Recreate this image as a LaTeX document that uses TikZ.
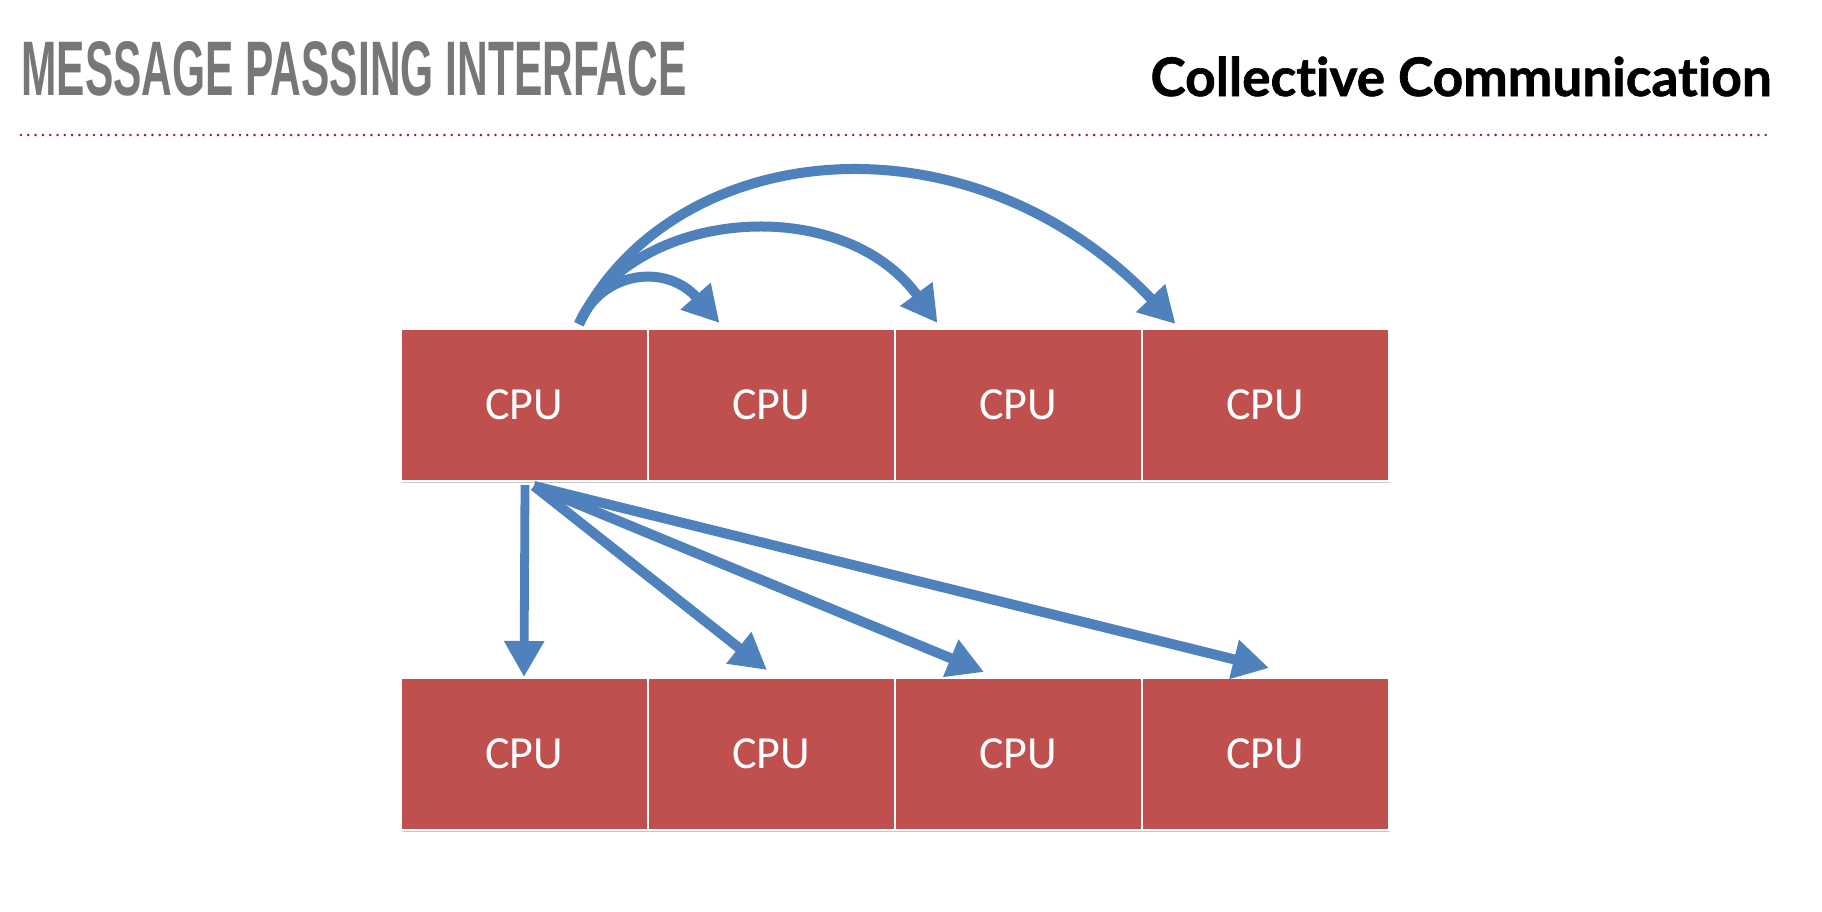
\documentclass[tikz,border=0pt]{standalone}
\usepackage{fontspec}
\setmainfont{Carlito}
\newfontfamily\titlefont{Liberation Sans}
\newfontfamily\subfont{Lato}[Ligatures=NoCommon, BoldFeatures={FakeBold=1.2}]
\usetikzlibrary{arrows.meta,shadows,calc}
\definecolor{cpured}{HTML}{C0504D}
\definecolor{arrowblue}{HTML}{4F81BD}
\definecolor{titlegray}{HTML}{777777}
\definecolor{dotred}{HTML}{8E1F2E}
\begin{document}
\begin{tikzpicture}[x=0.5pt,y=0.5pt,
  cpubox/.style={fill=cpured, draw=white, line width=1pt, minimum width=123.5pt,
    minimum height=76pt, inner sep=0pt, text=white, font=\fontsize{23}{26}\selectfont,
    drop shadow={shadow xshift=0.6pt, shadow yshift=-1.2pt, opacity=0.22, fill=black}},
  bluearrow/.style={draw=arrowblue, line width=5pt, -{Triangle[length=18pt,width=19pt]}},
  dotline/.style={dotred, line width=1.4pt, line cap=round, dash pattern=on 0pt off 3.65pt}]
\fill[white] (0,0) rectangle (1822,-911);
\useasboundingbox (0,0) rectangle (1822,-911);

% titles
\node[anchor=base west, inner sep=0pt, text=titlegray] (title) at (21,-95)
  {\resizebox{332.5pt}{27pt}{\titlefont\bfseries MESSAGE PASSING INTERFACE}};
\node[anchor=base east, inner sep=0pt, text=black] (sub) at (1772,-96)
  {\resizebox{310.5pt}{!}{\subfont\bfseries Collective Communication}};
\coordinate (dl) at (21,-135);
\coordinate (dr) at (1772,-135);
\draw[dotline] (dl) -- (dr);

% CPU boxes
\node[cpubox] (t1) at (524,-405) {CPU};
\node[cpubox] (t2) at (771,-405) {CPU};
\node[cpubox] (t3) at (1018,-405) {CPU};
\node[cpubox] (t4) at (1265,-405) {CPU};
\node[cpubox] (b1) at (524,-754) {CPU};
\node[cpubox] (b2) at (771,-754) {CPU};
\node[cpubox] (b3) at (1018,-754) {CPU};
\node[cpubox] (b4) at (1265,-754) {CPU};

% top curved arrows
\coordinate (src) at ($(t1.north)+(55,4)$);
\coordinate (a1) at ($(t2.north west)+(73,5)$);
\coordinate (a2) at ($(t3.north west)+(44,5)$);
\coordinate (a3) at ($(t4.north west)+(35,4)$);
\draw[bluearrow] (src) .. controls (600,-272) and (665,-262) .. (a1);
\draw[bluearrow] (src) .. controls (630,-210) and (840,-190) .. (a2);
\draw[bluearrow] (src) .. controls (670,-140) and (965,-105) .. (a3);

% bottom straight arrows
\coordinate (src2) at ($(t1.south)+(1,-3)$);
\coordinate (src3) at ($(t1.south)+(10,-4)$);
\coordinate (c2) at ($(b2.north)+(-4,7)$);
\coordinate (c3) at ($(b3.north)+(-34,5)$);
\coordinate (c4) at ($(b4.north)+(4,9)$);
\draw[bluearrow, line width=4.4pt] (src2) -- (b1.north);
\draw[bluearrow] (src3) -- (c2);
\draw[bluearrow] (src3) -- (c3);
\draw[bluearrow] (src3) -- (c4);
\end{tikzpicture}
\end{document}
